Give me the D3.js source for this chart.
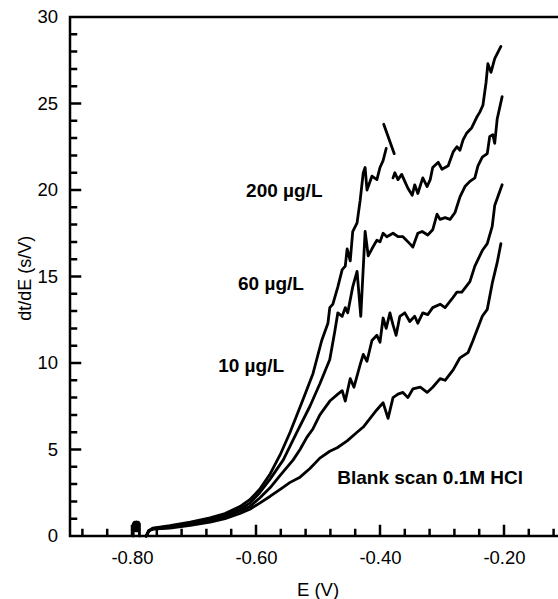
<!DOCTYPE html>
<html>
<head>
<meta charset="utf-8">
<script src="https://cdn.jsdelivr.net/npm/d3@7"></script>
<style>
    body { margin: 0; background: #fff; }
    svg { display: block; font-family: "Liberation Sans", Arial, Helvetica, sans-serif; color: #000; }
</style>
</head>
<body>
<div id="chart"></div>
<script>
// Series values: [E (V), dt/dE (s/V)]
const blankScan = [
    [-0.777, 0], [-0.773, 0.3], [-0.766, 0.4], [-0.739, 0.45], [-0.706, 0.62], [-0.674, 0.8],
    [-0.650, 1.0], [-0.626, 1.3], [-0.610, 1.55], [-0.594, 1.9], [-0.577, 2.3], [-0.561, 2.7],
    [-0.545, 3.1], [-0.529, 3.4], [-0.513, 3.9], [-0.497, 4.5], [-0.481, 4.9], [-0.469, 5.1],
    [-0.453, 5.5], [-0.437, 6.0], [-0.427, 6.3], [-0.416, 6.8], [-0.405, 7.3], [-0.395, 7.7],
    [-0.387, 6.8], [-0.379, 8.0], [-0.371, 8.2], [-0.363, 8.3], [-0.355, 8.0], [-0.347, 8.5],
    [-0.335, 8.6], [-0.324, 8.3], [-0.315, 8.6], [-0.303, 9.1], [-0.295, 9.0], [-0.282, 9.6],
    [-0.271, 10.3], [-0.258, 10.6], [-0.250, 11.3], [-0.235, 12.7], [-0.227, 13.1], [-0.219, 14.6],
    [-0.211, 15.8], [-0.205, 16.9]
];

const conc10 = [
    [-0.777, 0], [-0.773, 0.3], [-0.766, 0.42], [-0.739, 0.5], [-0.706, 0.68], [-0.674, 0.9],
    [-0.650, 1.1], [-0.626, 1.45], [-0.610, 1.7], [-0.594, 2.2], [-0.577, 2.8], [-0.561, 3.5],
    [-0.540, 4.4], [-0.529, 5.0], [-0.518, 5.7], [-0.508, 6.2], [-0.497, 7.0], [-0.481, 7.8],
    [-0.468, 8.2], [-0.461, 8.4], [-0.456, 7.8], [-0.448, 9.1], [-0.442, 8.6], [-0.432, 9.9],
    [-0.427, 10.5], [-0.421, 10.1], [-0.413, 11.3], [-0.405, 11.6], [-0.400, 11.2], [-0.395, 12.6],
    [-0.390, 12.0], [-0.384, 12.9], [-0.379, 12.2], [-0.374, 11.6], [-0.368, 12.7], [-0.360, 12.9],
    [-0.352, 12.4], [-0.344, 12.7], [-0.339, 12.3], [-0.331, 12.9], [-0.323, 12.8], [-0.315, 13.2],
    [-0.303, 13.4], [-0.295, 13.2], [-0.284, 13.7], [-0.276, 14.1], [-0.268, 14.1], [-0.255, 14.7],
    [-0.247, 15.6], [-0.235, 16.5], [-0.227, 16.9], [-0.219, 17.9], [-0.215, 19.1], [-0.203, 20.3]
];

const conc60 = [
    [-0.777, 0], [-0.773, 0.3], [-0.766, 0.44], [-0.739, 0.55], [-0.706, 0.75], [-0.674, 0.98],
    [-0.650, 1.2], [-0.626, 1.55], [-0.610, 1.9], [-0.594, 2.5], [-0.577, 3.3], [-0.556, 4.4],
    [-0.534, 6.0], [-0.513, 7.5], [-0.497, 8.8], [-0.481, 10.2], [-0.473, 11.8], [-0.468, 12.9],
    [-0.461, 12.7], [-0.456, 13.2], [-0.452, 12.9], [-0.444, 14.4], [-0.437, 15.3], [-0.431, 12.7],
    [-0.424, 17.6], [-0.419, 16.2], [-0.413, 16.6], [-0.405, 17.1], [-0.400, 17.0], [-0.395, 17.5],
    [-0.389, 17.3], [-0.379, 17.5], [-0.371, 17.3], [-0.363, 17.3], [-0.352, 16.9], [-0.347, 16.7],
    [-0.339, 17.5], [-0.332, 17.6], [-0.323, 17.4], [-0.315, 17.7], [-0.308, 18.6], [-0.303, 18.3],
    [-0.295, 18.4], [-0.287, 18.3], [-0.279, 18.7], [-0.271, 19.6], [-0.263, 20.2], [-0.255, 20.5],
    [-0.247, 20.7], [-0.242, 21.4], [-0.235, 21.9], [-0.227, 22.1], [-0.223, 23.1], [-0.218, 23.2],
    [-0.215, 22.7], [-0.211, 24.1], [-0.203, 25.4]
];

// null marks the break in the trace near -0.38 V
const conc200 = [
    [-0.777, 0], [-0.773, 0.3], [-0.766, 0.46], [-0.739, 0.6], [-0.706, 0.8], [-0.674, 1.05],
    [-0.650, 1.3], [-0.626, 1.7], [-0.610, 2.1], [-0.594, 2.7], [-0.577, 3.6], [-0.561, 4.7],
    [-0.545, 6.0], [-0.524, 7.9], [-0.508, 9.4], [-0.494, 11.3], [-0.484, 12.3], [-0.481, 13.2],
    [-0.476, 13.4], [-0.468, 14.4], [-0.461, 15.4], [-0.456, 15.6], [-0.453, 16.6], [-0.448, 15.9],
    [-0.444, 17.6], [-0.437, 18.1], [-0.432, 19.4], [-0.427, 21.0], [-0.424, 21.3], [-0.421, 20.0],
    [-0.413, 20.8], [-0.405, 20.6], [-0.400, 21.3], [-0.395, 21.7], [-0.390, 22.4],
    [-0.385, null],
    [-0.379, 20.7], [-0.376, 21.0], [-0.371, 20.6], [-0.365, 20.9], [-0.360, 20.5], [-0.355, 20.1],
    [-0.348, 19.7], [-0.344, 20.3], [-0.339, 19.8], [-0.331, 20.7], [-0.324, 20.2], [-0.319, 20.6],
    [-0.315, 21.3], [-0.306, 21.6], [-0.300, 21.2], [-0.290, 21.4], [-0.282, 22.2], [-0.276, 22.5],
    [-0.271, 22.3], [-0.266, 22.9], [-0.260, 23.3], [-0.252, 23.6], [-0.244, 24.2], [-0.239, 24.5],
    [-0.234, 24.9], [-0.229, 26.2], [-0.226, 27.3], [-0.221, 26.8], [-0.215, 27.6], [-0.205, 28.3]
];

// short stray stroke above the 200 trace, and the spike near -0.80 V
const strayStroke = [[-0.394, 23.8], [-0.377, 22.1]];
const spikeTrace = [
    [-0.798, 0], [-0.798, 0.7], [-0.796, 0.8], [-0.794, 0.3], [-0.793, 0.82],
    [-0.791, 0.3], [-0.790, 0.8], [-0.788, 0.7], [-0.788, 0]
];

const xMajorTicks = [-0.80, -0.60, -0.40, -0.20];
const yMajorTicks = [0, 5, 10, 15, 20, 25, 30];
const curveLabels = ["200 \u00b5g/L", "60 \u00b5g/L", "10 \u00b5g/L", "Blank scan 0.1M HCl"];

const width = 558, height = 599;

let svg = d3.select("#chart")
    .append("svg")
    .attr("width", width)
    .attr("height", height);

// Scales (plot runs past the right edge, as in the scan)
let x = d3.scaleLinear()
    .domain([-0.90, -0.10])
    .range([70, 566]);

let y = d3.scaleLinear()
    .domain([0, 30])
    .range([536, 17]);

let x0 = x(-0.90), y0 = y(0);

// Tick labels through the axis generators
function styleAxis(g) {
    g.select(".domain").remove();
    g.selectAll("line").remove();
    g.selectAll("text")
        .attr("fill", "#000")
        .style("font-size", "18.5px")
        .style("font-family", "'Liberation Sans', Arial, sans-serif");
}

svg.append("g")
    .attr("transform", "translate(0," + y0 + ")")
    .call(d3.axisBottom(x).tickValues(xMajorTicks).tickSize(0).tickPadding(15).tickFormat(d => d.toFixed(2)))
    .call(styleAxis);

svg.append("g")
    .attr("transform", "translate(" + x0 + ",0)")
    .call(d3.axisLeft(y).tickValues(yMajorTicks).tickSize(0).tickPadding(12))
    .call(styleAxis);

// Frame (left, top, bottom) and inward ticks in one path
let xMinor = d3.range(-0.88, -0.10, 0.04).map(d => +d.toFixed(2));
let yMinor = d3.range(1, 30, 1);

let frame = "M" + x0 + "," + y0 + "V" + y(30) + "H" + x(-0.10)
    + "M" + x0 + "," + y0 + "H" + x(-0.10);
xMinor.forEach(d => {
    let len = xMajorTicks.includes(d) ? 10 : 6;
    frame += "M" + x(d) + "," + y0 + "V" + (y0 - len);
});
yMinor.forEach(d => {
    let len = d % 5 === 0 ? 10 : 6;
    frame += "M" + x0 + "," + y(d) + "H" + (x0 + len);
});

svg.append("path")
    .attr("d", frame)
    .attr("fill", "none")
    .attr("stroke", "#000")
    .attr("stroke-width", 2.5)
    .attr("stroke-linecap", "square");

// Axis titles
svg.append("text")
    .attr("x", 318)
    .attr("y", 596)
    .attr("text-anchor", "middle")
    .style("font-size", "18.5px")
    .text("E (V)");

svg.append("text")
    .attr("transform", "translate(31," + y(14.9) + ") rotate(-90)")
    .attr("text-anchor", "middle")
    .style("font-size", "18px")
    .text("dt/dE (s/V)");

// Traces
let line = d3.line()
    .defined(d => d[1] !== null)
    .x(d => x(d[0]))
    .y(d => y(d[1]));

[blankScan, conc10, conc60, conc200, strayStroke, spikeTrace].forEach(series => {
    svg.append("path")
        .datum(series)
        .attr("fill", "none")
        .attr("stroke", "#000")
        .attr("stroke-width", 2.8)
        .attr("stroke-linejoin", "round")
        .attr("stroke-linecap", "round")
        .attr("d", line);
});

// Curve labels, anchored in data units
let labelPos = [[-0.616, 19.6], [-0.629, 14.2], [-0.661, 9.5], [-0.469, 3.0]];
curveLabels.forEach((txt, i) => {
    svg.append("text")
        .attr("x", x(labelPos[i][0]))
        .attr("y", y(labelPos[i][1]))
        .style("font-size", "19px")
        .style("font-weight", "bold")
        .text(txt);
});
</script>
</body>
</html>
